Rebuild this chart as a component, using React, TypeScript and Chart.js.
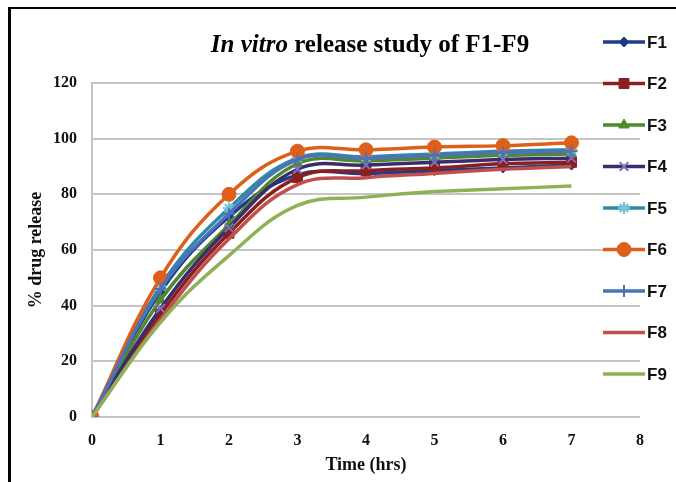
import React, { useEffect, useRef } from 'react';
import { Chart, registerables } from 'chart.js';
import { drawPoint } from 'chart.js/helpers';

Chart.register(...registerables);

const hours = [0, 1, 2, 3, 4, 5, 6, 7];
const seriesNames = ['F1', 'F2', 'F3', 'F4', 'F5', 'F6', 'F7', 'F8', 'F9'];
const F1 = [0, 45, 72, 87, 87.5, 88.5, 89.5, 90.5];
const F2 = [0, 37, 66, 86, 88.5, 89.5, 91, 91.5];
const F3 = [0, 42, 69, 91, 92, 93, 94, 94.5];
const F4 = [0, 39, 68, 89, 90.5, 91.5, 92.5, 93];
const F5 = [0, 47, 75, 93, 93.5, 94.5, 95.5, 96];
const F6 = [0, 50, 80, 95.5, 96, 97, 97.5, 98.5];
const F7 = [0, 46, 73, 92.5, 93, 94, 95, 95.5];
const F8 = [0, 35, 64, 83.5, 86, 87.5, 89, 90];
const F9 = [0, 34, 58, 76, 79, 81, 82, 83];
const seriesValues = [F1, F2, F3, F4, F5, F6, F7, F8, F9];

const lineColors = ['#1F3C88', '#8B1E1E', '#4F8A2A', '#3A2C6E', '#2E8AA6', '#DE5F1A', '#4C72B8', '#C0504D', '#8DB255'];
const markerColors = ['#1F3C88', '#8B1E1E', '#4F8A2A', '#8070B8', '#70C4DC', '#DE5F1A', '#4C72B8', '#C0504D', '#8DB255'];
const markerStyles = ['rectRot', 'rect', 'triangle', 'crossRot', 'star', 'circle', 'cross', 'circle', 'circle'];
const markerRadii = [5, 7, 6, 6, 6, 7, 6, 0, 0];

const titleItalic = 'In vitro';
const titleRest = ' release study of F1-F9';
const xTitle = 'Time (hrs)';
const yTitle = '% drug release';

const serif = '"Liberation Serif", "Times New Roman", serif';
const sans = '"Liberation Sans", Arial, sans-serif';

const titlePlugin = {
  id: 'customTitle',
  afterDraw(chart: any) {
    const ctx = chart.ctx;
    ctx.save();
    ctx.fillStyle = '#000';
    ctx.textBaseline = 'middle';
    ctx.font = `italic bold 25px ${serif}`;
    const w1 = ctx.measureText(titleItalic).width;
    ctx.font = `bold 25px ${serif}`;
    const w2 = ctx.measureText(titleRest).width;
    const cx = 370;
    const x0 = cx - (w1 + w2) / 2;
    ctx.font = `italic bold 25px ${serif}`;
    ctx.textAlign = 'left';
    ctx.fillText(titleItalic, x0, 46);
    ctx.font = `bold 25px ${serif}`;
    ctx.fillText(titleRest, x0 + w1, 46);
    ctx.restore();
  },
};

const legendPlugin = {
  id: 'customLegend',
  afterDraw(chart: any) {
    const ctx = chart.ctx;
    ctx.save();
    chart.data.datasets.forEach((ds: any, i: number) => {
      const y = 42 + i * 41.5;
      ctx.strokeStyle = ds.borderColor;
      ctx.lineWidth = 3.5;
      ctx.beginPath();
      ctx.moveTo(603, y);
      ctx.lineTo(645, y);
      ctx.stroke();
      if (ds.pointRadius > 0) {
        ctx.fillStyle = ds.pointBackgroundColor;
        ctx.strokeStyle = ds.pointBorderColor;
        ctx.lineWidth = ds.pointBorderWidth;
        drawPoint(ctx, { pointStyle: ds.pointStyle, radius: ds.pointRadius, borderWidth: ds.pointBorderWidth, rotation: 0 }, 624, y);
      }
      ctx.fillStyle = '#111';
      ctx.font = `bold 17px ${sans}`;
      ctx.textAlign = 'left';
      ctx.textBaseline = 'middle';
      ctx.fillText(seriesNames[i], 647, y + 1);
    });
    ctx.restore();
  },
};

export default function App() {
  const canvasRef = useRef<HTMLCanvasElement | null>(null);

  useEffect(() => {
    if (!canvasRef.current) return;
    const datasets = seriesNames.map((name, i) => ({
      label: name,
      data: hours.map((h, j) => ({ x: h, y: seriesValues[i][j] })),
      borderColor: lineColors[i],
      backgroundColor: lineColors[i],
      borderWidth: 3.5,
      pointStyle: markerStyles[i],
      pointRadius: markerRadii[i],
      pointBackgroundColor: markerColors[i],
      pointBorderColor: markerColors[i],
      pointBorderWidth: markerStyles[i] === 'crossRot' || markerStyles[i] === 'star' || markerStyles[i] === 'cross' ? 2 : 1,
      tension: 0.4,
      fill: false,
      order: 9 - i,
    }));
    const chart = new Chart(canvasRef.current, {
      type: 'line',
      data: { datasets },
      options: {
        animation: false,
        responsive: false,
        devicePixelRatio: 1,
        layout: { padding: { left: 22, right: 36, top: 83, bottom: 0 } },
        plugins: { legend: { display: false }, tooltip: { enabled: false }, title: { display: false } },
        scales: {
          x: {
            type: 'linear',
            min: 0,
            max: 8,
            grid: { display: false, drawTicks: false },
            border: { display: false },
            ticks: { stepSize: 1, padding: 14, color: '#111', font: { family: serif, size: 16, weight: 'bold' } },
            title: { display: true, text: xTitle, color: '#111', padding: { top: 0, bottom: 6 }, font: { family: serif, size: 18, weight: 'bold' } },
            afterFit: (scale: any) => { scale.height = 65; },
          },
          y: {
            min: 0,
            max: 120,
            grid: { color: '#C4C4C4', lineWidth: 2, drawTicks: false },
            border: { display: true, color: '#C4C4C4', width: 2 },
            ticks: { stepSize: 20, padding: 15, color: '#111', font: { family: serif, size: 16, weight: 'bold' } },
            title: { display: true, text: yTitle, color: '#111', padding: { top: 4, bottom: 0 }, font: { family: serif, size: 18, weight: 'bold' } },
            afterFit: (scale: any) => { scale.width = 70; },
          },
        },
      },
      plugins: [titlePlugin, legendPlugin],
    });
    return () => chart.destroy();
  }, []);

  return (
    <div style={{ position: 'absolute', left: 0, top: 0, width: 676, height: 482, background: '#fff' }}>
      <canvas ref={canvasRef} width={676} height={482} style={{ display: 'block', width: 676, height: 482 }} />
      <div style={{ position: 'absolute', left: 8, top: 7, right: 0, bottom: 0, borderLeft: '3px solid #000', borderTop: '2px solid #000', pointerEvents: 'none' }} />
    </div>
  );
}
